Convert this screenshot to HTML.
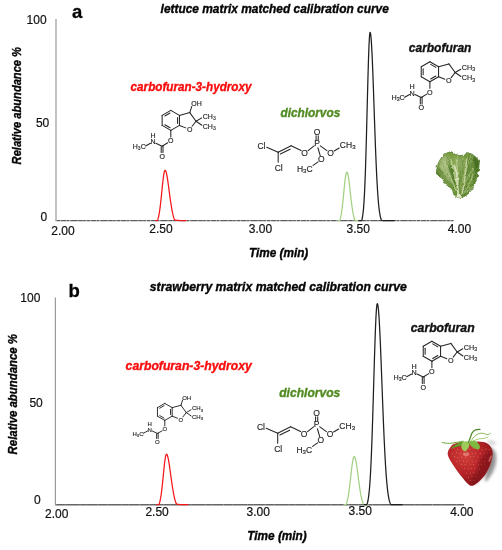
<!DOCTYPE html>
<html><head><meta charset="utf-8"><title>Matrix matched calibration curves</title>
<style>html,body{margin:0;padding:0;background:#fff}svg{display:block;filter:blur(0.35px)}</style></head>
<body>
<svg width="502" height="550" viewBox="0 0 502 550" font-family="Liberation Sans, Arial, sans-serif">
<defs><filter id="b1" x="-20%" y="-20%" width="140%" height="140%"><feGaussianBlur stdDeviation="0.8"/></filter><filter id="b2" x="-30%" y="-30%" width="160%" height="160%"><feGaussianBlur stdDeviation="1.6"/></filter><filter id="b0" x="-20%" y="-20%" width="140%" height="140%"><feGaussianBlur stdDeviation="0.45"/></filter><filter id="soft"><feGaussianBlur stdDeviation="0.35"/></filter></defs>
<rect width="502" height="550" fill="#fff"/>
<line x1="56.0" y1="19.0" x2="56.0" y2="220.7" stroke="#9a9a9a" stroke-width="1.2"/>
<line x1="55.5" y1="220.8" x2="453.5" y2="220.8" stroke="#8a8a8a" stroke-width="1.1"/>
<line x1="57.0" y1="220.6" x2="453.5" y2="220.6" stroke="#2e2e2e" stroke-width="0.8" stroke-dasharray="3 1.2 5 0.8 2 1.5 7 1 4 0.7 2.5 1.3" opacity="0.85"/>
<text x="72.0" y="18.3" font-size="18.5" font-weight="bold" fill="#050505" stroke="#050505" stroke-width="0.3">a</text>
<text x="160.6" y="13.3" font-size="12" font-weight="bold" font-style="italic" fill="#050505" stroke="#050505" stroke-width="0.35" textLength="228.2" lengthAdjust="spacingAndGlyphs">lettuce matrix matched calibration curve</text>
<text transform="translate(21.4,164.4) rotate(-90)" font-size="12" font-weight="bold" font-style="italic" fill="#050505" stroke="#050505" stroke-width="0.35" textLength="117.4" lengthAdjust="spacingAndGlyphs">Relative abundance %</text>
<text x="46.6" y="23.8" text-anchor="end" font-size="12" fill="#111" stroke="#111" stroke-width="0.2">100</text>
<text x="49.3" y="126.9" text-anchor="end" font-size="12" fill="#111" stroke="#111" stroke-width="0.2">50</text>
<text x="47.1" y="220.6" text-anchor="end" font-size="12" fill="#111" stroke="#111" stroke-width="0.2">0</text>
<text x="51.3" y="234.8" font-size="12" fill="#111" stroke="#111" stroke-width="0.2">2.00</text>
<text x="149.3" y="233.3" font-size="12" fill="#111" stroke="#111" stroke-width="0.2">2.50</text>
<text x="248.8" y="233.0" font-size="12" fill="#111" stroke="#111" stroke-width="0.2">3.00</text>
<text x="346.5" y="232.8" font-size="12" fill="#111" stroke="#111" stroke-width="0.2">3.50</text>
<text x="447.8" y="232.6" font-size="12" fill="#111" stroke="#111" stroke-width="0.2">4.00</text>
<text x="248.9" y="256.8" font-size="12" font-weight="bold" font-style="italic" fill="#050505" stroke="#050505" stroke-width="0.35" textLength="59.4" lengthAdjust="spacingAndGlyphs">Time (min)</text>
<line x1="55.4" y1="297.5" x2="55.4" y2="504.8" stroke="#9a9a9a" stroke-width="1.2"/>
<line x1="54.9" y1="504.9" x2="464.0" y2="504.9" stroke="#8a8a8a" stroke-width="1.1"/>
<line x1="56.4" y1="504.7" x2="464.0" y2="504.7" stroke="#2e2e2e" stroke-width="0.8" stroke-dasharray="9 0.4 14 0.5 6 0.3 11 0.6" opacity="0.85"/>
<text x="68.6" y="296.9" font-size="18.5" font-weight="bold" fill="#050505" stroke="#050505" stroke-width="0.3">b</text>
<text x="149.8" y="291.2" font-size="12" font-weight="bold" font-style="italic" fill="#050505" stroke="#050505" stroke-width="0.35" textLength="257.1" lengthAdjust="spacingAndGlyphs">strawberry matrix matched calibration curve</text>
<text transform="translate(16.9,454.4) rotate(-90)" font-size="12" font-weight="bold" font-style="italic" fill="#050505" stroke="#050505" stroke-width="0.35" textLength="120.4" lengthAdjust="spacingAndGlyphs">Relative abundance %</text>
<text x="40.4" y="302.0" text-anchor="end" font-size="12" fill="#111" stroke="#111" stroke-width="0.2">100</text>
<text x="42.8" y="407.3" text-anchor="end" font-size="12" fill="#111" stroke="#111" stroke-width="0.2">50</text>
<text x="40.8" y="503.6" text-anchor="end" font-size="12" fill="#111" stroke="#111" stroke-width="0.2">0</text>
<text x="45.0" y="518.2" font-size="12" fill="#111" stroke="#111" stroke-width="0.2">2.00</text>
<text x="145.4" y="516.4" font-size="12" fill="#111" stroke="#111" stroke-width="0.2">2.50</text>
<text x="246.5" y="515.7" font-size="12" fill="#111" stroke="#111" stroke-width="0.2">3.00</text>
<text x="348.6" y="515.1" font-size="12" fill="#111" stroke="#111" stroke-width="0.2">3.50</text>
<text x="450.2" y="515.8" font-size="12" fill="#111" stroke="#111" stroke-width="0.2">4.00</text>
<text x="247.3" y="539.7" font-size="12" font-weight="bold" font-style="italic" fill="#050505" stroke="#050505" stroke-width="0.35" textLength="59.4" lengthAdjust="spacingAndGlyphs">Time (min)</text>
<path d="M156.00,220.60 L156.50,220.60 L157.00,220.60 L157.50,220.33 L158.00,218.89 L158.50,217.00 L159.00,214.61 L159.50,211.67 L160.00,208.16 L160.50,204.13 L161.00,199.62 L161.50,194.79 L162.00,189.80 L162.50,184.88 L163.00,180.30 L163.50,176.32 L164.00,173.18 L164.50,171.11 L165.00,170.23 L165.50,170.47 L166.00,171.54 L166.50,173.37 L167.00,175.86 L167.50,178.90 L168.00,182.34 L168.50,186.04 L169.00,189.86 L169.50,193.68 L170.00,197.40 L170.50,200.92 L171.00,204.17 L171.50,207.12 L172.00,210.09 L172.50,212.71 L173.00,214.95 L173.50,216.85 L174.00,218.41 L174.50,219.67 L175.00,219.98 L175.50,220.09 L176.00,220.18 L176.50,220.26 L177.00,220.32 L177.50,220.37 L178.00,220.41 L178.50,220.45 L179.00,220.47 L179.50,220.50 L180.00,220.52 L180.50,220.53 L181.00,220.54 L181.50,220.55 L182.00,220.56 L182.50,220.57 L183.00,220.57 L183.50,220.58 L184.00,220.58 L184.50,220.59 L185.00,220.59 L185.50,220.59 L186.00,220.59" fill="none" stroke="#f5161b" stroke-width="1.25" stroke-linejoin="round" stroke-linecap="round"/>
<path d="M338.00,220.60 L338.50,220.60 L339.00,220.60 L339.50,220.60 L340.00,219.74 L340.50,218.00 L341.00,215.72 L341.50,212.84 L342.00,209.33 L342.50,205.19 L343.00,200.52 L343.50,195.47 L344.00,190.26 L344.50,185.17 L345.00,180.52 L345.50,176.63 L346.00,173.81 L346.50,172.26 L347.00,172.08 L347.50,173.02 L348.00,174.95 L348.50,177.75 L349.00,181.27 L349.50,185.31 L350.00,189.66 L350.50,194.13 L351.00,198.54 L351.50,202.72 L352.00,206.56 L352.50,209.97 L353.00,212.93 L353.50,215.43 L354.00,217.47 L354.50,219.10 L355.00,220.38 L355.50,220.60 L356.00,220.60 L356.50,220.60 L357.00,220.60 L357.50,220.60 L358.00,220.60" fill="none" stroke="#a4d083" stroke-width="1.25" stroke-linejoin="round" stroke-linecap="round"/>
<path d="M359.00,220.60 L359.50,220.60 L360.00,220.60 L360.50,220.60 L361.00,220.60 L361.50,220.60 L362.00,219.39 L362.50,217.00 L363.00,213.52 L363.50,208.60 L364.00,201.89 L364.50,193.06 L365.00,181.86 L365.50,168.17 L366.00,152.10 L366.50,134.02 L367.00,114.60 L367.50,94.80 L368.00,75.79 L368.50,58.86 L369.00,45.30 L369.50,36.20 L370.00,32.31 L370.50,33.18 L371.00,37.10 L371.50,43.84 L372.00,53.08 L372.50,64.40 L373.00,77.31 L373.50,91.29 L374.00,105.81 L374.50,120.37 L375.00,134.54 L375.50,147.95 L376.00,160.32 L376.50,171.49 L377.00,181.40 L377.50,189.96 L378.00,197.20 L378.50,203.19 L379.00,208.06 L379.50,211.94 L380.00,214.98 L380.50,217.30 L381.00,219.06 L381.50,220.36 L382.00,220.48 L382.50,220.50 L383.00,220.52 L383.50,220.53 L384.00,220.54 L384.50,220.55 L385.00,220.56 L385.50,220.56 L386.00,220.57 L386.50,220.57 L387.00,220.58 L387.50,220.58 L388.00,220.58 L388.50,220.59 L389.00,220.59 L389.50,220.59 L390.00,220.59 L390.50,220.59 L391.00,220.59 L391.50,220.60 L392.00,220.60 L392.50,220.60 L393.00,220.60 L393.50,220.60 L394.00,220.60" fill="none" stroke="#1e1e1e" stroke-width="1.25" stroke-linejoin="round" stroke-linecap="round"/>
<path d="M157.00,504.70 L157.50,504.70 L158.00,504.70 L158.50,504.70 L159.00,504.48 L159.50,503.01 L160.00,501.10 L160.50,498.66 L161.00,495.66 L161.50,492.07 L162.00,487.94 L162.50,483.33 L163.00,478.38 L163.50,473.30 L164.00,468.33 L164.50,463.73 L165.00,459.79 L165.50,456.76 L166.00,454.85 L166.50,454.20 L167.00,454.58 L167.50,455.72 L168.00,457.55 L168.50,459.98 L169.00,462.90 L169.50,466.20 L170.00,469.75 L170.50,473.42 L171.00,477.10 L171.50,480.69 L172.00,484.13 L172.50,487.33 L173.00,490.26 L173.50,493.12 L174.00,495.78 L174.50,498.10 L175.00,500.08 L175.50,501.75 L176.00,503.12 L176.50,504.04 L177.00,504.15 L177.50,504.25 L178.00,504.33 L178.50,504.40 L179.00,504.45 L179.50,504.50 L180.00,504.54 L180.50,504.57 L181.00,504.59 L181.50,504.61 L182.00,504.63 L182.50,504.64 L183.00,504.65 L183.50,504.66 L184.00,504.67 L184.50,504.67 L185.00,504.68 L185.50,504.68 L186.00,504.69 L186.50,504.69 L187.00,504.69 L187.50,504.69 L188.00,504.69" fill="none" stroke="#f5161b" stroke-width="1.25" stroke-linejoin="round" stroke-linecap="round"/>
<path d="M344.00,504.70 L344.50,504.70 L345.00,504.70 L345.50,504.70 L346.00,504.68 L346.50,503.47 L347.00,501.89 L347.50,499.91 L348.00,497.48 L348.50,494.58 L349.00,491.20 L349.50,487.39 L350.00,483.23 L350.50,478.83 L351.00,474.34 L351.50,469.96 L352.00,465.88 L352.50,462.33 L353.00,459.49 L353.50,457.54 L354.00,456.59 L354.50,456.64 L355.00,457.52 L355.50,459.14 L356.00,461.44 L356.50,464.31 L357.00,467.64 L357.50,471.29 L358.00,475.12 L358.50,479.00 L359.00,482.82 L359.50,486.46 L360.00,489.86 L360.50,492.94 L361.00,495.69 L361.50,498.08 L362.00,500.12 L362.50,501.82 L363.00,503.22 L363.50,504.34 L364.00,504.70 L364.50,504.70 L365.00,504.70 L365.50,504.70 L366.00,504.70 L366.50,504.70 L367.00,504.70 L367.50,504.70 L368.00,504.70" fill="none" stroke="#a4d083" stroke-width="1.25" stroke-linejoin="round" stroke-linecap="round"/>
<path d="M364.00,504.70 L364.50,504.70 L365.00,504.70 L365.50,504.70 L366.00,504.70 L366.50,504.70 L367.00,504.35 L367.50,502.74 L368.00,500.50 L368.50,497.46 L369.00,493.44 L369.50,488.22 L370.00,481.61 L370.50,473.44 L371.00,463.57 L371.50,451.95 L372.00,438.62 L372.50,423.75 L373.00,407.63 L373.50,390.69 L374.00,373.51 L374.50,356.74 L375.00,341.13 L375.50,327.41 L376.00,316.30 L376.50,308.38 L377.00,304.11 L377.50,303.59 L378.00,305.72 L378.50,310.15 L379.00,316.71 L379.50,325.20 L380.00,335.32 L380.50,346.75 L381.00,359.16 L381.50,372.18 L382.00,385.47 L382.50,398.72 L383.00,411.64 L383.50,423.99 L384.00,435.57 L384.50,446.25 L385.00,455.98 L385.50,464.70 L386.00,472.37 L386.50,479.00 L387.00,484.66 L387.50,489.42 L388.00,493.37 L388.50,496.59 L389.00,499.19 L389.50,501.26 L390.00,502.88 L390.50,504.14 L391.00,504.60 L391.50,504.62 L392.00,504.63 L392.50,504.64 L393.00,504.65 L393.50,504.66 L394.00,504.66 L394.50,504.67 L395.00,504.67 L395.50,504.68 L396.00,504.68 L396.50,504.68 L397.00,504.69 L397.50,504.69 L398.00,504.69 L398.50,504.69 L399.00,504.69 L399.50,504.69 L400.00,504.70 L400.50,504.70 L401.00,504.70 L401.50,504.70 L402.00,504.70" fill="none" stroke="#1e1e1e" stroke-width="1.25" stroke-linejoin="round" stroke-linecap="round"/>
<text x="130.6" y="90.9" font-size="12" font-weight="bold" font-style="italic" fill="#fa0d0d" stroke="#fa0d0d" stroke-width="0.35" textLength="120.9" lengthAdjust="spacingAndGlyphs">carbofuran-3-hydroxy</text>
<text x="280.4" y="117.3" font-size="12" font-weight="bold" font-style="italic" fill="#528b22" stroke="#528b22" stroke-width="0.35" textLength="59.9" lengthAdjust="spacingAndGlyphs">dichlorvos</text>
<text x="408.8" y="52.4" font-size="12" font-weight="bold" font-style="italic" fill="#111" stroke="#111" stroke-width="0.35" textLength="62.6" lengthAdjust="spacingAndGlyphs">carbofuran</text>
<text x="125.6" y="370.2" font-size="12" font-weight="bold" font-style="italic" fill="#fa0d0d" stroke="#fa0d0d" stroke-width="0.35" textLength="126.2" lengthAdjust="spacingAndGlyphs">carbofuran-3-hydroxy</text>
<text x="279.2" y="397.3" font-size="12" font-weight="bold" font-style="italic" fill="#528b22" stroke="#528b22" stroke-width="0.35" textLength="61.1" lengthAdjust="spacingAndGlyphs">dichlorvos</text>
<text x="410.8" y="331.8" font-size="12" font-weight="bold" font-style="italic" fill="#111" stroke="#111" stroke-width="0.35" textLength="63.8" lengthAdjust="spacingAndGlyphs">carbofuran</text>
<g transform="translate(170.80,120.40)" stroke="#262626" stroke-width="1.05" stroke-linecap="round" fill="none" font-size="7.0" font-family="Liberation Sans, Arial, sans-serif">
<g><line x1="-8.66" y1="-5.00" x2="0.00" y2="-10.00"/>
<line x1="0.00" y1="-10.00" x2="8.66" y2="-5.00"/>
<line x1="8.66" y1="-5.00" x2="8.66" y2="5.00"/>
<line x1="8.66" y1="5.00" x2="0.00" y2="10.00"/>
<line x1="0.00" y1="10.00" x2="-8.66" y2="5.00"/>
<line x1="-8.66" y1="5.00" x2="-8.66" y2="-5.00"/>
<line x1="-5.94" y1="-4.37" x2="-0.81" y2="-7.33"/>
<line x1="6.75" y1="-2.96" x2="6.75" y2="2.96"/>
<line x1="-0.81" y1="7.33" x2="-5.94" y2="4.37"/>
<line x1="8.66" y1="-5.00" x2="18.96" y2="-7.80"/>
<line x1="18.96" y1="-7.80" x2="25.26" y2="0.80"/>
<line x1="25.26" y1="0.80" x2="21.29" y2="5.88"/>
<line x1="14.98" y1="7.48" x2="8.66" y2="5.00"/>
<line x1="25.26" y1="0.80" x2="30.86" y2="-2.50"/>
<line x1="25.26" y1="0.80" x2="31.06" y2="4.80"/>
<line x1="18.96" y1="-7.80" x2="20.96" y2="-14.00"/>
<line x1="0.00" y1="10.00" x2="0.00" y2="16.51"/>
<line x1="-3.13" y1="22.41" x2="-8.70" y2="25.80"/>
<line x1="-9.60" y1="26.30" x2="-9.60" y2="32.19"/>
<line x1="-7.80" y1="25.30" x2="-7.80" y2="32.19"/>
<line x1="-8.70" y1="25.80" x2="-14.89" y2="22.88"/>
<line x1="-20.30" y1="22.88" x2="-25.21" y2="25.59"/>
<text stroke="#262626" stroke-width="0.15" fill="#262626" x="18.86" y="11.52" text-anchor="middle">O</text>
<text stroke="#262626" stroke-width="0.15" fill="#262626" x="31.96" y="-1.68" text-anchor="start">CH<tspan font-size="5.0" dy="1.3">3</tspan></text>
<text stroke="#262626" stroke-width="0.15" fill="#262626" x="31.96" y="8.72" text-anchor="start">CH<tspan font-size="5.0" dy="1.3">3</tspan></text>
<text stroke="#262626" stroke-width="0.15" fill="#262626" x="20.46" y="-13.98" text-anchor="start">OH</text>
<text stroke="#262626" stroke-width="0.15" fill="#262626" x="0.00" y="23.02" text-anchor="middle">O</text>
<text stroke="#262626" stroke-width="0.15" fill="#262626" x="-8.70" y="38.62" text-anchor="middle">O</text>
<text stroke="#262626" stroke-width="0.15" fill="#262626" x="-17.80" y="24.02" text-anchor="middle">N</text>
<text stroke="#262626" stroke-width="0.15" fill="#262626" x="-17.80" y="17.52" text-anchor="middle">H</text>
<text stroke="#262626" stroke-width="0.15" fill="#262626" x="-25.10" y="28.32" text-anchor="end">H<tspan font-size="5.0" dy="1.3">3</tspan><tspan dy="-1.3">C</tspan></text></g></g>
<g transform="translate(429.90,71.70)" stroke="#262626" stroke-width="1.05" stroke-linecap="round" fill="none" font-size="7.2" font-family="Liberation Sans, Arial, sans-serif">
<g><line x1="-8.66" y1="-5.00" x2="0.00" y2="-10.00"/>
<line x1="0.00" y1="-10.00" x2="8.66" y2="-5.00"/>
<line x1="8.66" y1="-5.00" x2="8.66" y2="5.00"/>
<line x1="8.66" y1="5.00" x2="0.00" y2="10.00"/>
<line x1="0.00" y1="10.00" x2="-8.66" y2="5.00"/>
<line x1="-8.66" y1="5.00" x2="-8.66" y2="-5.00"/>
<line x1="-6.75" y1="2.96" x2="-6.75" y2="-2.96"/>
<line x1="0.81" y1="-7.33" x2="5.94" y2="-4.37"/>
<line x1="5.94" y1="4.37" x2="0.81" y2="7.33"/>
<line x1="8.66" y1="-5.00" x2="18.96" y2="-7.80"/>
<line x1="18.96" y1="-7.80" x2="25.26" y2="0.80"/>
<line x1="25.26" y1="0.80" x2="21.29" y2="5.88"/>
<line x1="14.98" y1="7.48" x2="8.66" y2="5.00"/>
<line x1="25.26" y1="0.80" x2="30.86" y2="-2.50"/>
<line x1="25.26" y1="0.80" x2="31.06" y2="4.80"/>
<line x1="0.00" y1="10.00" x2="0.00" y2="16.51"/>
<line x1="-3.13" y1="22.41" x2="-8.70" y2="25.80"/>
<line x1="-9.60" y1="26.30" x2="-9.60" y2="32.19"/>
<line x1="-7.80" y1="25.30" x2="-7.80" y2="32.19"/>
<line x1="-8.70" y1="25.80" x2="-14.89" y2="22.88"/>
<line x1="-20.30" y1="22.88" x2="-25.21" y2="25.59"/>
<text stroke="#262626" stroke-width="0.15" fill="#262626" x="18.86" y="11.59" text-anchor="middle">O</text>
<text stroke="#262626" stroke-width="0.15" fill="#262626" x="31.96" y="-1.61" text-anchor="start">CH<tspan font-size="5.2" dy="1.3">3</tspan></text>
<text stroke="#262626" stroke-width="0.15" fill="#262626" x="31.96" y="8.79" text-anchor="start">CH<tspan font-size="5.2" dy="1.3">3</tspan></text>
<text stroke="#262626" stroke-width="0.15" fill="#262626" x="0.00" y="23.09" text-anchor="middle">O</text>
<text stroke="#262626" stroke-width="0.15" fill="#262626" x="-8.70" y="38.69" text-anchor="middle">O</text>
<text stroke="#262626" stroke-width="0.15" fill="#262626" x="-17.80" y="24.09" text-anchor="middle">N</text>
<text stroke="#262626" stroke-width="0.15" fill="#262626" x="-17.80" y="17.59" text-anchor="middle">H</text>
<text stroke="#262626" stroke-width="0.15" fill="#262626" x="-25.10" y="28.39" text-anchor="end">H<tspan font-size="5.2" dy="1.3">3</tspan><tspan dy="-1.3">C</tspan></text></g></g>
<g transform="translate(317.40,143.90)" stroke="#262626" stroke-width="1.05" stroke-linecap="round" fill="none" font-size="8.5" font-family="Liberation Sans, Arial, sans-serif">
<g><line x1="-50.68" y1="3.35" x2="-39.21" y2="8.37"/>
<line x1="-39.21" y1="8.37" x2="-26.30" y2="1.91"/>
<line x1="-37.05" y1="10.04" x2="-27.25" y2="5.26"/>
<line x1="-39.21" y1="8.37" x2="-39.21" y2="18.41"/>
<line x1="-26.30" y1="1.91" x2="-16.26" y2="6.69"/>
<line x1="-9.32" y1="6.69" x2="-3.35" y2="1.91"/>
<line x1="-1.31" y1="-3.83" x2="-1.31" y2="-8.13"/>
<line x1="0.84" y1="-3.83" x2="0.84" y2="-8.13"/>
<line x1="2.87" y1="1.91" x2="9.56" y2="6.69"/>
<line x1="16.73" y1="7.17" x2="21.75" y2="4.06"/>
<line x1="0.48" y1="3.83" x2="2.87" y2="11.95"/>
<line x1="0.72" y1="17.93" x2="-4.30" y2="21.52"/>
<text stroke="#262626" stroke-width="0.15" fill="#262626" x="-55.94" y="4.97" text-anchor="middle">Cl</text>
<text stroke="#262626" stroke-width="0.15" fill="#262626" x="-38.73" y="26.97" text-anchor="middle">Cl</text>
<text stroke="#262626" stroke-width="0.15" fill="#262626" x="-12.91" y="12.14" text-anchor="middle">O</text>
<text stroke="#262626" stroke-width="0.15" fill="#262626" x="-0.24" y="2.58" text-anchor="middle">P</text>
<text stroke="#262626" stroke-width="0.15" fill="#262626" x="-0.24" y="-9.37" text-anchor="middle">O</text>
<text stroke="#262626" stroke-width="0.15" fill="#262626" x="13.15" y="12.14" text-anchor="middle">O</text>
<text stroke="#262626" stroke-width="0.15" fill="#262626" x="3.83" y="18.36" text-anchor="middle">O</text>
<text stroke="#262626" stroke-width="0.15" fill="#262626" x="22.47" y="4.02" text-anchor="start">CH<tspan font-size="6.1" dy="1.5">3</tspan></text>
<text stroke="#262626" stroke-width="0.15" fill="#262626" x="-4.78" y="27.92" text-anchor="end">H<tspan font-size="6.1" dy="1.5">3</tspan><tspan dy="-1.5">C</tspan></text></g></g>
<g transform="translate(164.80,411.90)" stroke="#262626" stroke-width="0.95" stroke-linecap="round" fill="none" font-size="6.0" font-family="Liberation Sans, Arial, sans-serif">
<g><line x1="-7.36" y1="-4.25" x2="0.00" y2="-8.50"/>
<line x1="0.00" y1="-8.50" x2="7.36" y2="-4.25"/>
<line x1="7.36" y1="-4.25" x2="7.36" y2="4.25"/>
<line x1="7.36" y1="4.25" x2="0.00" y2="8.50"/>
<line x1="0.00" y1="8.50" x2="-7.36" y2="4.25"/>
<line x1="-7.36" y1="4.25" x2="-7.36" y2="-4.25"/>
<line x1="-5.05" y1="-3.71" x2="-0.69" y2="-6.23"/>
<line x1="5.74" y1="-2.52" x2="5.74" y2="2.52"/>
<line x1="-0.69" y1="6.23" x2="-5.05" y2="3.71"/>
<line x1="7.36" y1="-4.25" x2="16.12" y2="-6.63"/>
<line x1="16.12" y1="-6.63" x2="21.47" y2="0.68"/>
<line x1="21.47" y1="0.68" x2="18.10" y2="5.00"/>
<line x1="12.74" y1="6.36" x2="7.36" y2="4.25"/>
<line x1="21.47" y1="0.68" x2="26.23" y2="-2.13"/>
<line x1="21.47" y1="0.68" x2="26.40" y2="4.08"/>
<line x1="16.12" y1="-6.63" x2="17.82" y2="-11.90"/>
<line x1="0.00" y1="8.50" x2="0.00" y2="14.03"/>
<line x1="-2.66" y1="18.92" x2="-7.39" y2="21.57"/>
<line x1="-8.16" y1="21.99" x2="-8.16" y2="26.56"/>
<line x1="-6.63" y1="21.14" x2="-6.63" y2="26.56"/>
<line x1="-7.39" y1="21.57" x2="-12.65" y2="19.08"/>
<line x1="-17.25" y1="19.08" x2="-21.43" y2="21.39"/>
<text stroke="#262626" stroke-width="0.15" fill="#262626" x="16.03" y="9.81" text-anchor="middle">O</text>
<text stroke="#262626" stroke-width="0.15" fill="#262626" x="27.17" y="-1.41" text-anchor="start">CH<tspan font-size="4.3" dy="1.1">3</tspan></text>
<text stroke="#262626" stroke-width="0.15" fill="#262626" x="27.17" y="7.43" text-anchor="start">CH<tspan font-size="4.3" dy="1.1">3</tspan></text>
<text stroke="#262626" stroke-width="0.15" fill="#262626" x="17.39" y="-11.87" text-anchor="start">OH</text>
<text stroke="#262626" stroke-width="0.15" fill="#262626" x="0.00" y="19.59" text-anchor="middle">O</text>
<text stroke="#262626" stroke-width="0.15" fill="#262626" x="-7.39" y="31.78" text-anchor="middle">O</text>
<text stroke="#262626" stroke-width="0.15" fill="#262626" x="-15.13" y="20.07" text-anchor="middle">N</text>
<text stroke="#262626" stroke-width="0.15" fill="#262626" x="-15.13" y="14.55" text-anchor="middle">H</text>
<text stroke="#262626" stroke-width="0.15" fill="#262626" x="-21.33" y="23.73" text-anchor="end">H<tspan font-size="4.3" dy="1.1">3</tspan><tspan dy="-1.1">C</tspan></text></g></g>
<g transform="translate(431.90,351.20)" stroke="#262626" stroke-width="1.05" stroke-linecap="round" fill="none" font-size="7.2" font-family="Liberation Sans, Arial, sans-serif">
<g><line x1="-8.66" y1="-5.00" x2="0.00" y2="-10.00"/>
<line x1="0.00" y1="-10.00" x2="8.66" y2="-5.00"/>
<line x1="8.66" y1="-5.00" x2="8.66" y2="5.00"/>
<line x1="8.66" y1="5.00" x2="0.00" y2="10.00"/>
<line x1="0.00" y1="10.00" x2="-8.66" y2="5.00"/>
<line x1="-8.66" y1="5.00" x2="-8.66" y2="-5.00"/>
<line x1="-6.75" y1="2.96" x2="-6.75" y2="-2.96"/>
<line x1="0.81" y1="-7.33" x2="5.94" y2="-4.37"/>
<line x1="5.94" y1="4.37" x2="0.81" y2="7.33"/>
<line x1="8.66" y1="-5.00" x2="18.96" y2="-7.80"/>
<line x1="18.96" y1="-7.80" x2="25.26" y2="0.80"/>
<line x1="25.26" y1="0.80" x2="21.29" y2="5.88"/>
<line x1="14.98" y1="7.48" x2="8.66" y2="5.00"/>
<line x1="25.26" y1="0.80" x2="30.86" y2="-2.50"/>
<line x1="25.26" y1="0.80" x2="31.06" y2="4.80"/>
<line x1="0.00" y1="10.00" x2="0.00" y2="16.51"/>
<line x1="-3.13" y1="22.41" x2="-8.70" y2="25.80"/>
<line x1="-9.60" y1="26.30" x2="-9.60" y2="32.19"/>
<line x1="-7.80" y1="25.30" x2="-7.80" y2="32.19"/>
<line x1="-8.70" y1="25.80" x2="-14.89" y2="22.88"/>
<line x1="-20.30" y1="22.88" x2="-25.21" y2="25.59"/>
<text stroke="#262626" stroke-width="0.15" fill="#262626" x="18.86" y="11.59" text-anchor="middle">O</text>
<text stroke="#262626" stroke-width="0.15" fill="#262626" x="31.96" y="-1.61" text-anchor="start">CH<tspan font-size="5.2" dy="1.3">3</tspan></text>
<text stroke="#262626" stroke-width="0.15" fill="#262626" x="31.96" y="8.79" text-anchor="start">CH<tspan font-size="5.2" dy="1.3">3</tspan></text>
<text stroke="#262626" stroke-width="0.15" fill="#262626" x="0.00" y="23.09" text-anchor="middle">O</text>
<text stroke="#262626" stroke-width="0.15" fill="#262626" x="-8.70" y="38.69" text-anchor="middle">O</text>
<text stroke="#262626" stroke-width="0.15" fill="#262626" x="-17.80" y="24.09" text-anchor="middle">N</text>
<text stroke="#262626" stroke-width="0.15" fill="#262626" x="-17.80" y="17.59" text-anchor="middle">H</text>
<text stroke="#262626" stroke-width="0.15" fill="#262626" x="-25.10" y="28.39" text-anchor="end">H<tspan font-size="5.2" dy="1.3">3</tspan><tspan dy="-1.3">C</tspan></text></g></g>
<g transform="translate(316.90,424.90)" stroke="#262626" stroke-width="1.05" stroke-linecap="round" fill="none" font-size="8.5" font-family="Liberation Sans, Arial, sans-serif">
<g><line x1="-50.68" y1="3.35" x2="-39.21" y2="8.37"/>
<line x1="-39.21" y1="8.37" x2="-26.30" y2="1.91"/>
<line x1="-37.05" y1="10.04" x2="-27.25" y2="5.26"/>
<line x1="-39.21" y1="8.37" x2="-39.21" y2="18.41"/>
<line x1="-26.30" y1="1.91" x2="-16.26" y2="6.69"/>
<line x1="-9.32" y1="6.69" x2="-3.35" y2="1.91"/>
<line x1="-1.31" y1="-3.83" x2="-1.31" y2="-8.13"/>
<line x1="0.84" y1="-3.83" x2="0.84" y2="-8.13"/>
<line x1="2.87" y1="1.91" x2="9.56" y2="6.69"/>
<line x1="16.73" y1="7.17" x2="21.75" y2="4.06"/>
<line x1="0.48" y1="3.83" x2="2.87" y2="11.95"/>
<line x1="0.72" y1="17.93" x2="-4.30" y2="21.52"/>
<text stroke="#262626" stroke-width="0.15" fill="#262626" x="-55.94" y="4.97" text-anchor="middle">Cl</text>
<text stroke="#262626" stroke-width="0.15" fill="#262626" x="-38.73" y="26.97" text-anchor="middle">Cl</text>
<text stroke="#262626" stroke-width="0.15" fill="#262626" x="-12.91" y="12.14" text-anchor="middle">O</text>
<text stroke="#262626" stroke-width="0.15" fill="#262626" x="-0.24" y="2.58" text-anchor="middle">P</text>
<text stroke="#262626" stroke-width="0.15" fill="#262626" x="-0.24" y="-9.37" text-anchor="middle">O</text>
<text stroke="#262626" stroke-width="0.15" fill="#262626" x="13.15" y="12.14" text-anchor="middle">O</text>
<text stroke="#262626" stroke-width="0.15" fill="#262626" x="3.83" y="18.36" text-anchor="middle">O</text>
<text stroke="#262626" stroke-width="0.15" fill="#262626" x="22.47" y="4.02" text-anchor="start">CH<tspan font-size="6.1" dy="1.5">3</tspan></text>
<text stroke="#262626" stroke-width="0.15" fill="#262626" x="-4.78" y="27.92" text-anchor="end">H<tspan font-size="6.1" dy="1.5">3</tspan><tspan dy="-1.5">C</tspan></text></g></g>
<defs><radialGradient id="lg" cx="0.40" cy="0.42" r="0.72"><stop offset="0" stop-color="#9bb768"/><stop offset="0.55" stop-color="#76993f"/><stop offset="1" stop-color="#4f7a26"/></radialGradient><clipPath id="lc"><path d="M436.7,170.3 C437.0,168.7 437.4,165.7 438.2,163.5 C439.1,161.4 440.3,159.1 441.8,157.3 C443.4,155.5 445.8,153.5 447.5,152.7 C449.3,151.8 450.8,151.8 452.2,152.1 C453.6,152.5 454.0,154.2 455.8,154.7 C457.6,155.3 461.1,155.6 463.1,155.3 C465.1,154.9 466.3,152.8 467.7,152.7 C469.2,152.5 470.4,153.4 471.9,154.2 C473.3,155.1 475.3,156.5 476.5,157.8 C477.7,159.2 478.8,160.7 479.1,162.5 C479.5,164.3 478.9,166.6 478.6,168.7 C478.4,170.8 478.0,172.9 477.6,174.9 C477.1,177.0 476.9,178.9 476.0,181.1 C475.2,183.4 473.9,186.2 472.4,188.4 C470.9,190.6 469.3,193.1 467.2,194.6 C465.1,196.2 462.1,197.6 460.0,197.7 C457.8,197.8 455.6,196.5 454.3,195.1 C453.0,193.7 453.1,190.9 452.2,189.4 C451.2,188.0 449.8,187.3 448.6,186.3 C447.4,185.4 445.9,184.9 444.9,183.7 C444.0,182.5 443.9,180.4 442.9,179.1 C441.8,177.8 439.9,177.0 438.7,176.0 C437.6,174.9 436.5,173.8 436.1,172.9 C435.8,171.9 436.3,171.8 436.7,170.3 Z"/></clipPath>
<filter id="lt" x="-10%" y="-10%" width="120%" height="120%"><feTurbulence type="fractalNoise" baseFrequency="0.32" numOctaves="2" seed="5" result="n"/><feDisplacementMap in="SourceGraphic" in2="n" scale="3.2" xChannelSelector="R" yChannelSelector="G"/><feGaussianBlur stdDeviation="0.4"/></filter></defs>
<g filter="url(#lt)">
<path d="M436.7,170.3 C437.0,168.7 437.4,165.7 438.2,163.5 C439.1,161.4 440.3,159.1 441.8,157.3 C443.4,155.5 445.8,153.5 447.5,152.7 C449.3,151.8 450.8,151.8 452.2,152.1 C453.6,152.5 454.0,154.2 455.8,154.7 C457.6,155.3 461.1,155.6 463.1,155.3 C465.1,154.9 466.3,152.8 467.7,152.7 C469.2,152.5 470.4,153.4 471.9,154.2 C473.3,155.1 475.3,156.5 476.5,157.8 C477.7,159.2 478.8,160.7 479.1,162.5 C479.5,164.3 478.9,166.6 478.6,168.7 C478.4,170.8 478.0,172.9 477.6,174.9 C477.1,177.0 476.9,178.9 476.0,181.1 C475.2,183.4 473.9,186.2 472.4,188.4 C470.9,190.6 469.3,193.1 467.2,194.6 C465.1,196.2 462.1,197.6 460.0,197.7 C457.8,197.8 455.6,196.5 454.3,195.1 C453.0,193.7 453.1,190.9 452.2,189.4 C451.2,188.0 449.8,187.3 448.6,186.3 C447.4,185.4 445.9,184.9 444.9,183.7 C444.0,182.5 443.9,180.4 442.9,179.1 C441.8,177.8 439.9,177.0 438.7,176.0 C437.6,174.9 436.5,173.8 436.1,172.9 C435.8,171.9 436.3,171.8 436.7,170.3 Z" fill="url(#lg)" stroke="#4f7a28" stroke-width="0.8"/>
<g clip-path="url(#lc)">
<g filter="url(#b2)">
<path d="M473.4,156.3 C474.1,155.1 478.0,158.9 478.8,161.5 C479.6,164.1 479.0,168.4 478.4,171.8 C477.9,175.3 476.4,181.0 475.5,182.2 C474.6,183.4 473.4,181.3 473.2,179.1 C473.1,176.8 474.6,172.5 474.7,168.7 C474.7,164.9 472.7,157.5 473.4,156.3 Z" fill="#38601a" opacity="0.7"/>
<path d="M466.7,160.4 C467.3,157.5 469.1,155.9 469.8,157.3 C470.5,158.7 471.1,164.6 470.8,168.7 C470.6,172.9 469.1,181.1 468.3,182.2 C467.4,183.2 466.2,178.6 466.0,174.9 C465.7,171.3 466.1,163.4 466.7,160.4 Z" fill="#3f681e" opacity="0.6"/>
<path d="M448.6,167.7 C449.4,166.5 451.6,165.4 452.7,166.6 C453.8,167.9 455.0,171.5 455.3,174.9 C455.6,178.4 455.1,186.2 454.3,187.4 C453.4,188.6 451.2,184.4 450.1,182.2 C449.0,179.9 447.8,176.3 447.5,173.9 C447.3,171.5 447.7,168.9 448.6,167.7 Z" fill="#436c21" opacity="0.55"/>
<path d="M436.7,171.8 C436.8,170.5 438.6,167.9 439.8,168.7 C440.9,169.6 442.1,174.4 443.4,177.0 C444.7,179.6 447.5,183.5 447.5,184.3 C447.5,185.0 444.9,183.0 443.4,181.7 C441.9,180.4 439.9,178.1 438.7,176.5 C437.6,174.8 436.5,173.1 436.7,171.8 Z" fill="#50752c" opacity="0.45"/>
<path d="M462.0,182.2 C462.6,179.6 465.2,177.9 466.2,179.1 C467.1,180.3 468.3,186.8 467.7,189.4 C467.2,192.0 464.0,195.8 463.1,194.6 C462.1,193.4 461.5,184.8 462.0,182.2 Z" fill="#4d722a" opacity="0.4"/>
<path d="M439.3,163.5 C439.6,161.3 442.8,157.6 444.4,156.8 C446.1,156.0 448.6,157.1 449.1,158.9 C449.6,160.6 448.7,165.3 447.5,167.2 C446.4,169.1 443.7,170.9 442.4,170.3 C441.0,169.7 438.9,165.8 439.3,163.5 Z" fill="#c3d1a2" opacity="0.7"/>
<path d="M455.8,156.8 C456.9,155.8 461.7,155.7 463.1,157.3 C464.5,159.0 464.6,164.7 464.1,166.6 C463.6,168.5 461.3,169.2 460.0,168.7 C458.7,168.2 457.0,165.5 456.3,163.5 C455.7,161.6 454.7,157.8 455.8,156.8 Z" fill="#b4c68e" opacity="0.55"/>
<path d="M442.4,171.8 C442.9,170.4 446.0,168.5 447.5,169.8 C449.1,171.0 451.3,176.8 451.7,179.1 C452.0,181.3 450.8,183.4 449.6,183.2 C448.4,183.0 445.6,179.9 444.4,178.0 C443.2,176.1 441.8,173.2 442.4,171.8 Z" fill="#b9ca95" opacity="0.5"/>
</g>
<path d="M448.4,191.0 Q443.7,187.6 424.7,178.6" fill="none" stroke="#3f6a1c" stroke-width="0.53" opacity="0.71" stroke-linecap="round"/>
<path d="M453.1,193.2 Q440.6,186.6 424.6,176.8" fill="none" stroke="#7fa24c" stroke-width="0.97" opacity="0.66" stroke-linecap="round"/>
<path d="M444.9,188.6 Q440.9,185.6 418.9,173.8" fill="none" stroke="#4f7a26" stroke-width="0.84" opacity="0.72" stroke-linecap="round"/>
<path d="M448.7,190.2 Q448.1,189.1 434.0,181.1" fill="none" stroke="#3a6418" stroke-width="0.71" opacity="0.73" stroke-linecap="round"/>
<path d="M449.6,189.6 Q443.0,185.1 426.8,172.7" fill="none" stroke="#5f8a34" stroke-width="0.68" opacity="0.60" stroke-linecap="round"/>
<path d="M451.9,190.4 Q446.6,187.3 436.1,176.7" fill="none" stroke="#44701f" stroke-width="0.45" opacity="0.69" stroke-linecap="round"/>
<path d="M444.3,184.2 Q441.9,183.7 425.5,168.4" fill="none" stroke="#44701f" stroke-width="0.55" opacity="0.77" stroke-linecap="round"/>
<path d="M450.0,189.0 Q446.4,185.0 431.9,173.7" fill="none" stroke="#cbd9a2" stroke-width="0.94" opacity="0.47" stroke-linecap="round"/>
<path d="M454.9,192.8 Q448.2,185.6 433.4,173.2" fill="none" stroke="#cbd9a2" stroke-width="0.89" opacity="0.35" stroke-linecap="round"/>
<path d="M451.1,188.1 Q447.0,182.2 433.4,169.3" fill="none" stroke="#4f7a26" stroke-width="0.69" opacity="0.52" stroke-linecap="round"/>
<path d="M444.0,179.6 Q441.7,180.2 428.3,162.0" fill="none" stroke="#3f6a1c" stroke-width="0.61" opacity="0.75" stroke-linecap="round"/>
<path d="M455.4,192.4 Q448.9,183.4 435.8,169.4" fill="none" stroke="#4f7a26" stroke-width="0.55" opacity="0.47" stroke-linecap="round"/>
<path d="M456.0,192.3 Q448.3,181.4 439.1,168.3" fill="none" stroke="#3f6a1c" stroke-width="0.85" opacity="0.36" stroke-linecap="round"/>
<path d="M449.0,182.5 Q446.0,180.6 436.0,164.1" fill="none" stroke="#4f7a26" stroke-width="1.01" opacity="0.43" stroke-linecap="round"/>
<path d="M454.2,189.6 Q447.7,177.5 433.6,159.6" fill="none" stroke="#7fa24c" stroke-width="0.54" opacity="0.78" stroke-linecap="round"/>
<path d="M456.6,192.0 Q449.4,178.2 440.4,161.8" fill="none" stroke="#5f8a34" stroke-width="0.57" opacity="0.67" stroke-linecap="round"/>
<path d="M455.1,189.6 Q448.7,177.3 437.5,158.9" fill="none" stroke="#b9cc88" stroke-width="0.49" opacity="0.57" stroke-linecap="round"/>
<path d="M451.1,179.8 Q448.8,178.0 442.1,160.7" fill="none" stroke="#44701f" stroke-width="0.45" opacity="0.54" stroke-linecap="round"/>
<path d="M452.8,183.5 Q451.8,183.3 446.2,169.8" fill="none" stroke="#b9cc88" stroke-width="0.65" opacity="0.75" stroke-linecap="round"/>
<path d="M456.8,190.0 Q453.2,177.8 445.7,158.4" fill="none" stroke="#44701f" stroke-width="1.05" opacity="0.56" stroke-linecap="round"/>
<path d="M457.3,191.9 Q451.1,180.8 446.9,164.4" fill="none" stroke="#b9cc88" stroke-width="0.91" opacity="0.49" stroke-linecap="round"/>
<path d="M455.5,183.1 Q455.4,182.6 451.3,167.4" fill="none" stroke="#4f7a26" stroke-width="0.96" opacity="0.76" stroke-linecap="round"/>
<path d="M455.9,185.7 Q454.9,177.9 447.4,157.3" fill="none" stroke="#44701f" stroke-width="1.00" opacity="0.61" stroke-linecap="round"/>
<path d="M457.9,191.4 Q455.5,179.5 451.1,161.9" fill="none" stroke="#b9cc88" stroke-width="1.10" opacity="0.75" stroke-linecap="round"/>
<path d="M457.3,186.5 Q456.9,179.3 452.8,161.4" fill="none" stroke="#7fa24c" stroke-width="0.46" opacity="0.69" stroke-linecap="round"/>
<path d="M455.9,181.8 Q454.9,176.7 450.8,158.0" fill="none" stroke="#d3dfad" stroke-width="0.95" opacity="0.65" stroke-linecap="round"/>
<path d="M457.1,181.0 Q455.7,173.6 453.3,152.3" fill="none" stroke="#7fa24c" stroke-width="0.52" opacity="0.76" stroke-linecap="round"/>
<path d="M458.1,183.0 Q459.4,177.9 456.4,160.0" fill="none" stroke="#cbd9a2" stroke-width="0.84" opacity="0.71" stroke-linecap="round"/>
<path d="M458.7,181.4 Q457.5,179.7 458.2,164.2" fill="none" stroke="#cbd9a2" stroke-width="0.50" opacity="0.57" stroke-linecap="round"/>
<path d="M459.3,186.8 Q460.4,175.8 459.8,152.7" fill="none" stroke="#4f7a26" stroke-width="0.48" opacity="0.56" stroke-linecap="round"/>
<path d="M460.1,180.3 Q460.0,175.0 461.8,153.1" fill="none" stroke="#3f6a1c" stroke-width="0.72" opacity="0.38" stroke-linecap="round"/>
<path d="M459.3,181.7 Q457.4,175.0 459.5,152.3" fill="none" stroke="#5f8a34" stroke-width="0.85" opacity="0.60" stroke-linecap="round"/>
<path d="M460.0,188.7 Q459.8,179.4 463.0,160.7" fill="none" stroke="#4f7a26" stroke-width="0.96" opacity="0.79" stroke-linecap="round"/>
<path d="M459.9,188.7 Q460.7,181.6 461.9,165.9" fill="none" stroke="#b9cc88" stroke-width="0.88" opacity="0.44" stroke-linecap="round"/>
<path d="M461.2,184.3 Q459.7,180.8 464.3,165.0" fill="none" stroke="#4f7a26" stroke-width="0.56" opacity="0.70" stroke-linecap="round"/>
<path d="M460.8,188.6 Q463.8,175.6 468.5,152.0" fill="none" stroke="#cbd9a2" stroke-width="0.46" opacity="0.77" stroke-linecap="round"/>
<path d="M462.9,182.6 Q463.0,181.9 467.2,166.5" fill="none" stroke="#a9c274" stroke-width="0.79" opacity="0.64" stroke-linecap="round"/>
<path d="M465.0,176.1 Q464.4,175.4 470.9,154.9" fill="none" stroke="#b9cc88" stroke-width="0.91" opacity="0.72" stroke-linecap="round"/>
<path d="M465.7,177.3 Q464.6,178.0 472.5,157.2" fill="none" stroke="#5f8a34" stroke-width="0.78" opacity="0.71" stroke-linecap="round"/>
<path d="M461.4,190.2 Q467.9,175.0 473.8,154.1" fill="none" stroke="#d3dfad" stroke-width="0.64" opacity="0.54" stroke-linecap="round"/>
<path d="M463.7,184.7 Q466.0,176.5 475.2,154.4" fill="none" stroke="#44701f" stroke-width="0.52" opacity="0.50" stroke-linecap="round"/>
<path d="M464.6,185.5 Q464.5,182.6 472.8,168.3" fill="none" stroke="#d3dfad" stroke-width="1.06" opacity="0.57" stroke-linecap="round"/>
<path d="M462.5,190.5 Q465.3,183.4 473.9,170.0" fill="none" stroke="#7fa24c" stroke-width="0.85" opacity="0.59" stroke-linecap="round"/>
<path d="M467.8,181.9 Q468.2,179.6 478.8,163.1" fill="none" stroke="#3f6a1c" stroke-width="0.55" opacity="0.73" stroke-linecap="round"/>
<path d="M465.9,186.3 Q469.9,179.9 480.1,164.7" fill="none" stroke="#7fa24c" stroke-width="0.40" opacity="0.52" stroke-linecap="round"/>
<path d="M467.1,184.3 Q468.9,184.3 475.3,171.7" fill="none" stroke="#b9cc88" stroke-width="0.74" opacity="0.66" stroke-linecap="round"/>
<path d="M468.8,181.3 Q469.0,181.5 479.6,164.1" fill="none" stroke="#5f8a34" stroke-width="0.57" opacity="0.57" stroke-linecap="round"/>
<path d="M467.5,185.1 Q474.1,179.5 485.4,160.3" fill="none" stroke="#b9cc88" stroke-width="0.53" opacity="0.63" stroke-linecap="round"/>
<path d="M463.1,192.1 Q470.6,183.8 479.8,173.2" fill="none" stroke="#cbd9a2" stroke-width="0.41" opacity="0.48" stroke-linecap="round"/>
<path d="M466.8,188.3 Q470.3,184.4 481.5,172.0" fill="none" stroke="#7fa24c" stroke-width="0.84" opacity="0.67" stroke-linecap="round"/>
<path d="M472.6,182.9 Q472.7,181.1 490.2,164.8" fill="none" stroke="#3f6a1c" stroke-width="0.51" opacity="0.44" stroke-linecap="round"/>
<path d="M469.3,186.8 Q473.7,183.6 488.1,168.7" fill="none" stroke="#4f7a26" stroke-width="0.56" opacity="0.68" stroke-linecap="round"/>
<path d="M475.1,182.8 Q475.3,181.5 493.1,167.3" fill="none" stroke="#cbd9a2" stroke-width="0.94" opacity="0.44" stroke-linecap="round"/>
<path d="M467.9,188.6 Q474.0,180.5 491.8,166.3" fill="none" stroke="#a9c274" stroke-width="0.98" opacity="0.54" stroke-linecap="round"/>
<path d="M462.3,194.3 Q471.2,187.8 484.1,178.0" fill="none" stroke="#cbd9a2" stroke-width="0.80" opacity="0.51" stroke-linecap="round"/>
<path d="M466.4,191.7 Q474.5,187.0 488.3,176.6" fill="none" stroke="#cbd9a2" stroke-width="0.96" opacity="0.57" stroke-linecap="round"/>
<path d="M469.4,188.9 Q476.5,184.9 493.0,171.1" fill="none" stroke="#cbd9a2" stroke-width="0.53" opacity="0.44" stroke-linecap="round"/>
<path d="M464.9,193.3 Q481.0,184.0 499.3,173.3" fill="none" stroke="#d3dfad" stroke-width="0.45" opacity="0.39" stroke-linecap="round"/>
<path d="M467.4,191.8 Q474.2,186.6 490.5,178.0" fill="none" stroke="#44701f" stroke-width="0.99" opacity="0.43" stroke-linecap="round"/>
<path d="M465.9,193.0 Q477.3,186.0 496.2,176.8" fill="none" stroke="#7fa24c" stroke-width="0.95" opacity="0.50" stroke-linecap="round"/>
<path d="M458.4,196.2 C458.3,195.0 457.9,191.9 457.7,189.4 C457.5,186.9 457.4,183.9 457.2,181.1 C456.9,178.4 456.8,175.4 456.3,172.9 C455.9,170.3 454.6,166.8 454.3,165.6" fill="none" stroke="#d9e2bb" stroke-width="2.0" stroke-linecap="round" opacity="0.95"/>
<path d="M461.5,195.1 C461.9,193.7 463.0,189.3 463.6,186.3 C464.2,183.3 464.5,180.3 464.9,177.0 C465.3,173.7 465.7,169.8 466.0,166.6 C466.3,163.5 466.6,159.7 466.7,158.4" fill="none" stroke="#c6d4a1" stroke-width="1.5" stroke-linecap="round" opacity="0.9"/>
<path d="M456.3,191.5 C455.7,190.0 454.0,185.1 452.7,182.2 C451.4,179.2 450.0,176.3 448.6,173.9 C447.2,171.5 445.1,168.7 444.4,167.7" fill="none" stroke="#b9cb90" stroke-width="1.1" stroke-linecap="round" opacity="0.8"/>
<path d="M463.1,193.6 C463.9,192.4 466.8,188.9 468.3,186.3 C469.7,183.7 471.0,181.0 471.9,178.0 C472.7,175.1 473.2,170.3 473.4,168.7" fill="none" stroke="#bdcc96" stroke-width="0.9" stroke-linecap="round" opacity="0.7"/>
</g>
<ellipse cx="459.1" cy="196.1" rx="2.8" ry="1.7" fill="#e6e9cc" opacity="0.95"/>
</g>
<defs><radialGradient id="sg" cx="0.38" cy="0.32" r="0.8"><stop offset="0" stop-color="#d23f3a"/><stop offset="0.45" stop-color="#b9262a"/><stop offset="1" stop-color="#7e1216"/></radialGradient></defs>
<path d="M489.5,447.7 C490.7,445.9 494.3,449.5 495.4,452.1 C496.5,454.6 496.6,459.4 496.0,463.0 C495.4,466.6 493.7,470.9 491.9,473.9 C490.1,476.9 485.7,483.0 485.1,481.2 C484.4,479.4 487.3,468.6 488.0,463.0 C488.7,457.4 488.2,449.5 489.5,447.7 Z" fill="#6e6e6e" opacity="0.7" filter="url(#b2)"/>
<path d="M487.3,440.5 C488.0,439.8 493.1,440.6 494.5,441.2 C496.0,441.8 496.7,443.5 496.0,444.1 C495.3,444.7 491.6,445.4 490.2,444.8 C488.7,444.2 486.5,441.1 487.3,440.5 Z" fill="#b9b9b9" opacity="0.6" filter="url(#b2)"/>
<g filter="url(#b0)">
<path d="M449.5,448.5 C450.5,446.8 451.9,445.1 453.8,444.1 C455.8,443.0 458.4,442.4 461.1,442.2 C463.8,442.0 466.9,443.0 469.8,442.9 C472.7,442.8 475.6,441.4 478.5,441.5 C481.5,441.5 485.1,442.2 487.3,443.4 C489.5,444.5 490.8,446.4 491.6,448.5 C492.5,450.5 492.8,453.1 492.5,455.7 C492.3,458.4 491.2,461.5 490.2,464.5 C489.1,467.4 487.9,470.4 486.1,473.2 C484.3,476.0 481.6,479.1 479.3,481.2 C477.0,483.3 474.3,485.2 472.4,485.7 C470.6,486.2 469.9,485.4 468.4,484.2 C466.8,483.1 465.2,481.0 463.3,478.7 C461.3,476.4 458.8,473.1 456.7,470.3 C454.7,467.4 452.4,464.2 450.9,461.5 C449.4,458.9 448.0,456.5 447.7,454.3 C447.5,452.1 448.4,450.2 449.5,448.5 Z" fill="url(#sg)"/>
<circle cx="454.0" cy="448.8" r="0.42" fill="#f1cfa0" opacity="0.85"/>
<circle cx="457.4" cy="449.2" r="0.42" fill="#f1cfa0" opacity="0.85"/>
<circle cx="462.6" cy="449.8" r="0.42" fill="#f1cfa0" opacity="0.85"/>
<circle cx="466.3" cy="448.9" r="0.42" fill="#f1cfa0" opacity="0.85"/>
<circle cx="469.9" cy="449.0" r="0.42" fill="#f1cfa0" opacity="0.85"/>
<circle cx="473.3" cy="448.8" r="0.42" fill="#f1cfa0" opacity="0.85"/>
<circle cx="477.3" cy="449.9" r="0.42" fill="#f1cfa0" opacity="0.85"/>
<circle cx="482.1" cy="449.8" r="0.42" fill="#f1cfa0" opacity="0.85"/>
<circle cx="486.0" cy="448.9" r="0.42" fill="#f1cfa0" opacity="0.85"/>
<circle cx="489.2" cy="449.5" r="0.42" fill="#f1cfa0" opacity="0.85"/>
<circle cx="452.4" cy="453.8" r="0.42" fill="#f1cfa0" opacity="0.85"/>
<circle cx="456.6" cy="452.7" r="0.42" fill="#f1cfa0" opacity="0.85"/>
<circle cx="460.1" cy="453.5" r="0.42" fill="#f1cfa0" opacity="0.85"/>
<circle cx="463.9" cy="452.8" r="0.42" fill="#f1cfa0" opacity="0.85"/>
<circle cx="467.7" cy="452.7" r="0.42" fill="#f1cfa0" opacity="0.85"/>
<circle cx="472.3" cy="453.8" r="0.42" fill="#f1cfa0" opacity="0.85"/>
<circle cx="475.7" cy="453.0" r="0.42" fill="#f1cfa0" opacity="0.85"/>
<circle cx="480.2" cy="453.4" r="0.42" fill="#f1cfa0" opacity="0.85"/>
<circle cx="484.0" cy="453.8" r="0.42" fill="#f1cfa0" opacity="0.85"/>
<circle cx="487.4" cy="453.1" r="0.42" fill="#f1cfa0" opacity="0.85"/>
<circle cx="454.6" cy="456.5" r="0.42" fill="#f1cfa0" opacity="0.85"/>
<circle cx="457.4" cy="457.4" r="0.42" fill="#f1cfa0" opacity="0.85"/>
<circle cx="461.6" cy="457.2" r="0.42" fill="#f1cfa0" opacity="0.85"/>
<circle cx="465.8" cy="457.0" r="0.42" fill="#f1cfa0" opacity="0.85"/>
<circle cx="470.5" cy="456.7" r="0.42" fill="#f1cfa0" opacity="0.85"/>
<circle cx="473.6" cy="456.7" r="0.42" fill="#f1cfa0" opacity="0.85"/>
<circle cx="477.9" cy="456.9" r="0.42" fill="#f1cfa0" opacity="0.85"/>
<circle cx="481.4" cy="457.5" r="0.42" fill="#f1cfa0" opacity="0.85"/>
<circle cx="485.3" cy="457.3" r="0.42" fill="#f1cfa0" opacity="0.85"/>
<circle cx="456.4" cy="461.3" r="0.42" fill="#f1cfa0" opacity="0.85"/>
<circle cx="459.5" cy="460.9" r="0.42" fill="#f1cfa0" opacity="0.85"/>
<circle cx="463.4" cy="461.0" r="0.42" fill="#f1cfa0" opacity="0.85"/>
<circle cx="467.1" cy="461.4" r="0.42" fill="#f1cfa0" opacity="0.85"/>
<circle cx="472.3" cy="461.8" r="0.42" fill="#f1cfa0" opacity="0.85"/>
<circle cx="476.0" cy="461.8" r="0.42" fill="#f1cfa0" opacity="0.85"/>
<circle cx="478.9" cy="460.8" r="0.42" fill="#f1cfa0" opacity="0.85"/>
<circle cx="484.2" cy="461.5" r="0.42" fill="#f1cfa0" opacity="0.85"/>
<circle cx="461.7" cy="464.3" r="0.42" fill="#f1cfa0" opacity="0.85"/>
<circle cx="465.2" cy="464.6" r="0.42" fill="#f1cfa0" opacity="0.85"/>
<circle cx="470.2" cy="464.8" r="0.42" fill="#f1cfa0" opacity="0.85"/>
<circle cx="473.4" cy="464.5" r="0.42" fill="#f1cfa0" opacity="0.85"/>
<circle cx="478.4" cy="464.9" r="0.42" fill="#f1cfa0" opacity="0.85"/>
<circle cx="481.2" cy="464.4" r="0.42" fill="#f1cfa0" opacity="0.85"/>
<circle cx="484.9" cy="464.6" r="0.42" fill="#f1cfa0" opacity="0.85"/>
<circle cx="464.3" cy="468.8" r="0.42" fill="#f1cfa0" opacity="0.85"/>
<circle cx="468.5" cy="468.9" r="0.42" fill="#f1cfa0" opacity="0.85"/>
<circle cx="471.3" cy="468.8" r="0.42" fill="#f1cfa0" opacity="0.85"/>
<circle cx="475.0" cy="468.8" r="0.42" fill="#f1cfa0" opacity="0.85"/>
<circle cx="479.2" cy="469.5" r="0.42" fill="#f1cfa0" opacity="0.85"/>
<circle cx="466.5" cy="473.1" r="0.42" fill="#f1cfa0" opacity="0.85"/>
<circle cx="470.2" cy="473.2" r="0.42" fill="#f1cfa0" opacity="0.85"/>
<circle cx="473.7" cy="472.3" r="0.42" fill="#f1cfa0" opacity="0.85"/>
<circle cx="477.3" cy="473.4" r="0.42" fill="#f1cfa0" opacity="0.85"/>
<circle cx="468.5" cy="477.5" r="0.42" fill="#f1cfa0" opacity="0.85"/>
<circle cx="472.0" cy="476.2" r="0.42" fill="#f1cfa0" opacity="0.85"/>
<circle cx="476.2" cy="476.3" r="0.42" fill="#f1cfa0" opacity="0.85"/>
<circle cx="470.4" cy="480.3" r="0.42" fill="#f1cfa0" opacity="0.85"/>
<circle cx="474.0" cy="480.5" r="0.42" fill="#f1cfa0" opacity="0.85"/>
<path d="M480.0,458.6 C482.2,455.5 488.4,450.6 490.2,451.4 C492.0,452.1 491.6,459.4 490.9,463.0 C490.2,466.6 487.9,470.2 485.8,473.2 C483.8,476.2 480.6,479.3 478.5,481.2 C476.5,483.1 474.7,484.9 473.5,484.5 C472.2,484.2 470.7,481.4 471.3,479.0 C471.9,476.6 475.6,473.7 477.1,470.3 C478.5,466.9 477.8,461.8 480.0,458.6 Z" fill="#6d0e12" opacity="0.45" filter="url(#b2)"/>
<ellipse cx="466.2" cy="454.3" rx="3.2" ry="1.8" fill="#f0a59a" opacity="0.55"/>
<ellipse cx="490.2" cy="458.6" rx="1.2" ry="3.5" fill="#e58a84" opacity="0.5" transform="rotate(20 490.2 458.6)"/>
<path d="M466.9,442.6 C466.5,442.2 463.0,441.5 461.1,441.9 C459.2,442.3 457.0,443.7 455.3,444.8 C453.5,446.0 450.9,448.3 450.6,448.7 C450.4,449.2 452.3,448.1 453.8,447.7 C455.3,447.3 458.1,446.8 459.6,446.3 C461.2,445.8 462.1,445.4 463.3,444.8 C464.5,444.2 467.3,443.1 466.9,442.6 Z" fill="#5f9a2c"/>
<path d="M462.5,442.6 C463.6,441.6 467.0,440.9 468.1,441.5 C469.2,442.1 469.6,444.6 469.1,446.3 C468.6,447.9 466.4,451.1 465.2,451.4 C463.9,451.6 462.0,449.2 461.5,447.7 C461.1,446.3 461.5,443.7 462.5,442.6 Z" fill="#9ccb5a"/>
<path d="M469.5,441.5 C470.4,440.8 473.9,440.5 475.6,441.2 C477.3,441.9 479.2,444.5 479.7,445.8 C480.2,447.2 479.9,449.0 478.8,449.3 C477.8,449.7 474.9,448.6 473.5,447.9 C472.0,447.2 470.8,446.2 470.1,445.1 C469.5,444.0 468.6,442.1 469.5,441.5 Z" fill="#7fb943"/>
<path d="M442.2,442.6 C443.4,442.8 447.0,443.4 449.5,443.4 C451.9,443.3 454.4,442.7 456.7,442.3 C459.0,442.0 462.2,441.4 463.3,441.2" fill="none" stroke="#6aa336" stroke-width="1.0" stroke-linecap="round"/>
<path d="M468.4,442.6 C468.7,441.9 469.5,439.8 470.1,438.3 C470.7,436.7 471.1,434.6 472.0,433.2 C472.9,431.8 474.3,430.5 475.6,429.8 C477.0,429.2 479.3,429.4 480.0,429.3" fill="none" stroke="#4d8a25" stroke-width="1.3" stroke-linecap="round"/>
<path d="M471.3,440.5 C472.0,439.6 473.9,436.6 475.6,435.4 C477.3,434.2 479.4,433.3 481.5,433.2 C483.5,433.1 486.5,434.6 488.0,434.6 C489.5,434.6 489.8,433.4 490.2,433.2" fill="none" stroke="#7ab040" stroke-width="0.9" stroke-linecap="round"/>
<path d="M472.7,441.2 C473.7,440.8 476.6,439.5 478.5,439.0 C480.5,438.5 482.8,438.6 484.4,438.3 C485.9,437.9 487.4,437.1 488.0,436.8" fill="none" stroke="#8cbf52" stroke-width="0.8" stroke-linecap="round"/>
</g>
</svg>
</body></html>
